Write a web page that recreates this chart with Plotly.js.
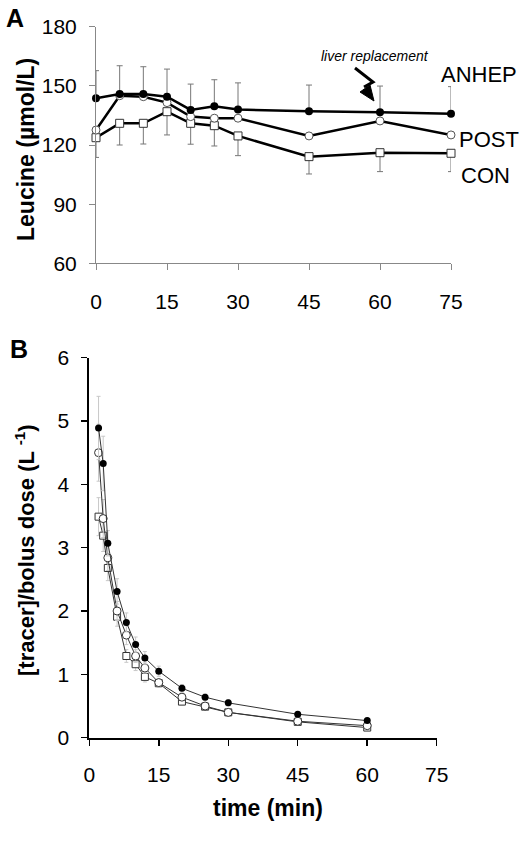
<!DOCTYPE html>
<html>
<head>
<meta charset="utf-8">
<script src="https://cdn.plot.ly/plotly-3.0.1.min.js"></script>
<style>html,body{margin:0;padding:0;background:#fff;}#chart{width:520px;height:850px;}</style>
</head>
<body>
<div id="chart"></div>
<script>
// ---------- Panel A: plasma leucine ----------
const timeA = [0, 5, 10, 15, 20, 25, 30, 45, 60, 75];
const anhepA = [143.7, 145.9, 145.9, 144.5, 137.8, 139.6, 138.0, 137.1, 136.6, 135.9];
const postA  = [127.6, 145.0, 144.5, 141.5, 134.4, 133.6, 133.6, 124.6, 132.2, 125.1];
const conA   = [123.7, 131.0, 131.0, 136.9, 131.0, 129.8, 124.6, 114.1, 116.1, 115.8];
const anhepAErrUp = [14, 14.3, 13.8, 14, 13.1, 13.5, 13.5, 13.3, 13.3, 13.7];
const conAErrDown = [10, 11, 10.5, 11.8, 10.6, 10.3, 10, 8.8, 9.6, 9.3];
const zerosA = timeA.map(() => 0);
const ticksA_x = [0, 15, 30, 45, 60, 75];
const ticksA_y = [60, 90, 120, 150, 180];

// ---------- Panel B: tracer decay ----------
const timeB = [2, 3, 4, 6, 8, 10, 12, 15, 20, 25, 30, 45, 60];
const anhepB = [4.89, 4.33, 3.07, 2.31, 1.82, 1.47, 1.26, 1.05, 0.78, 0.64, 0.55, 0.37, 0.27];
const postB  = [4.50, 3.46, 2.84, 2.00, 1.62, 1.29, 1.10, 0.87, 0.64, 0.50, 0.40, 0.26, 0.19];
const conB   = [3.49, 3.19, 2.68, 1.91, 1.29, 1.16, 0.96, 0.86, 0.57, 0.49, 0.40, 0.25, 0.16];
const anhepBErr = [0.5, 0.43, 0.2, 0.2, 0.15, 0.12, 0.1, 0.08, 0.06, 0.05, 0.05, 0.04, 0.03];
const postBErr  = [0.45, 0.3, 0.2, 0.15, 0.15, 0.1, 0.08, 0.06, 0.05, 0.04, 0.03, 0.03, 0.02];
const conBErr   = [0.3, 0.25, 0.2, 0.15, 0.1, 0.1, 0.08, 0.06, 0.05, 0.04, 0.03, 0.03, 0.02];
const ticksB_x = [0, 15, 30, 45, 60, 75];
const ticksB_y = [0, 1, 2, 3, 4, 5, 6];

const FONT = 'Liberation Sans, Arial, sans-serif';
const W = 520, H = 850;
const px = v => v / W;
const py = v => 1 - v / H;

const traces = [
  // Panel A
  {x: timeA, y: conA, xaxis: 'x', yaxis: 'y', mode: 'lines+markers', cliponaxis: false,
   line: {color: '#000', width: 2.5},
   marker: {symbol: 'square', size: 8, color: '#fff', line: {color: '#333', width: 1}},
   error_y: {type: 'data', symmetric: false, array: zerosA, arrayminus: conAErrDown, color: '#777', thickness: 1, width: 3}},
  {x: timeA, y: postA, xaxis: 'x', yaxis: 'y', mode: 'lines+markers', cliponaxis: false,
   line: {color: '#000', width: 2.5},
   marker: {symbol: 'circle', size: 8, color: '#fff', line: {color: '#555', width: 1}}},
  {x: timeA, y: anhepA, xaxis: 'x', yaxis: 'y', mode: 'lines+markers', cliponaxis: false,
   line: {color: '#000', width: 2.5},
   marker: {symbol: 'circle', size: 8, color: '#000'},
   error_y: {type: 'data', symmetric: false, array: anhepAErrUp, arrayminus: zerosA, color: '#777', thickness: 1, width: 3}},
  // Panel B
  {x: timeB, y: conB, xaxis: 'x2', yaxis: 'y2', mode: 'lines+markers', cliponaxis: false,
   line: {color: '#333', width: 1},
   marker: {symbol: 'square', size: 7, color: '#fff', line: {color: '#333', width: 1}},
   error_y: {type: 'data', array: conBErr, color: '#c8c8c8', thickness: 1, width: 2}},
  {x: timeB, y: postB, xaxis: 'x2', yaxis: 'y2', mode: 'lines+markers', cliponaxis: false,
   line: {color: '#333', width: 1},
   marker: {symbol: 'circle', size: 8, color: '#fff', line: {color: '#333', width: 1}},
   error_y: {type: 'data', array: postBErr, color: '#c8c8c8', thickness: 1, width: 2}},
  {x: timeB, y: anhepB, xaxis: 'x2', yaxis: 'y2', mode: 'lines+markers', cliponaxis: false,
   line: {color: '#333', width: 1},
   marker: {symbol: 'circle', size: 7, color: '#000'},
   error_y: {type: 'data', array: anhepBErr, color: '#c8c8c8', thickness: 1, width: 2}}
];

const axA = {
  showline: true, linecolor: '#888', linewidth: 1, ticks: 'outside', tickcolor: '#888', ticklen: 6, tickwidth: 1,
  showgrid: false, zeroline: false, tickfont: {family: FONT, size: 21, color: '#000'}, fixedrange: true
};
const axB = {
  showline: true, linecolor: '#000', linewidth: 2, ticks: 'outside', tickcolor: '#000', ticklen: 6, tickwidth: 1.5,
  showgrid: false, zeroline: false, tickfont: {family: FONT, size: 21, color: '#000'}, fixedrange: true
};

const layout = {
  width: W, height: H,
  margin: {l: 0, r: 0, t: 0, b: 0},
  paper_bgcolor: '#fff', plot_bgcolor: 'rgba(0,0,0,0)',
  showlegend: false,
  font: {family: FONT, color: '#000'},
  xaxis: Object.assign({}, axA, {domain: [px(96), px(451)], range: [0, 75], tickvals: ticksA_x, anchor: 'y', ticklabelstandoff: 13}),
  yaxis: Object.assign({}, axA, {domain: [py(263.3), py(26.7)], range: [60, 180], tickvals: ticksA_y, anchor: 'x', ticklabelstandoff: 8}),
  xaxis2: Object.assign({}, axB, {domain: [px(89.3), px(436.7)], range: [0, 75], tickvals: ticksB_x, anchor: 'y2', ticklabelstandoff: 11}),
  yaxis2: Object.assign({}, axB, {domain: [py(737.7), py(357.7)], range: [0, 6], tickvals: ticksB_y, anchor: 'x2', ticklabelstandoff: 8}),
  shapes: [
    {type: 'path', xref: 'paper', yref: 'paper',
     path: `M ${px(355)},${py(68)} L ${px(373)},${py(82)} L ${px(364)},${py(87)}`,
     line: {color: '#000', width: 3}},
    {type: 'path', xref: 'paper', yref: 'paper',
     path: `M ${px(374)},${py(101)} L ${px(360)},${py(92)} L ${px(370)},${py(85)} Z`,
     fillcolor: '#000', line: {color: '#000', width: 1}}
  ],
  annotations: [
    {text: '<b>A</b>', xref: 'paper', yref: 'paper', x: px(15), y: py(17.7), xanchor: 'center', yanchor: 'middle', showarrow: false, font: {family: FONT, size: 25}},
    {text: '<b>B</b>', xref: 'paper', yref: 'paper', x: px(19), y: py(349), xanchor: 'center', yanchor: 'middle', showarrow: false, font: {family: FONT, size: 25}},
    {text: '<b>Leucine (µmol/L)</b>', xref: 'paper', yref: 'paper', x: px(26), y: py(150), textangle: -90, xanchor: 'center', yanchor: 'middle', showarrow: false, font: {family: FONT, size: 23}},
    {text: '<b>[tracer]/bolus dose (L <sup>-1</sup>)</b>', xref: 'paper', yref: 'paper', x: px(25), y: py(550), textangle: -90, xanchor: 'center', yanchor: 'middle', showarrow: false, font: {family: FONT, size: 22}},
    {text: '<b>time (min)</b>', xref: 'paper', yref: 'paper', x: px(268), y: py(808), xanchor: 'center', yanchor: 'middle', showarrow: false, font: {family: FONT, size: 23}},
    {text: 'ANHEP', xref: 'paper', yref: 'paper', x: px(439), y: py(74.7), xanchor: 'left', yanchor: 'middle', showarrow: false, font: {family: FONT, size: 22}},
    {text: 'POST', xref: 'paper', yref: 'paper', x: px(457), y: py(140), xanchor: 'left', yanchor: 'middle', showarrow: false, font: {family: FONT, size: 22}},
    {text: 'CON', xref: 'paper', yref: 'paper', x: px(459), y: py(176), xanchor: 'left', yanchor: 'middle', showarrow: false, font: {family: FONT, size: 22}},
    {text: '<i>liver replacement</i>', xref: 'paper', yref: 'paper', x: px(375), y: py(56), xanchor: 'center', yanchor: 'middle', showarrow: false, font: {family: FONT, size: 14}}
  ]
};

Plotly.newPlot('chart', traces, layout, {displayModeBar: false, staticPlot: true});
</script>
</body>
</html>
